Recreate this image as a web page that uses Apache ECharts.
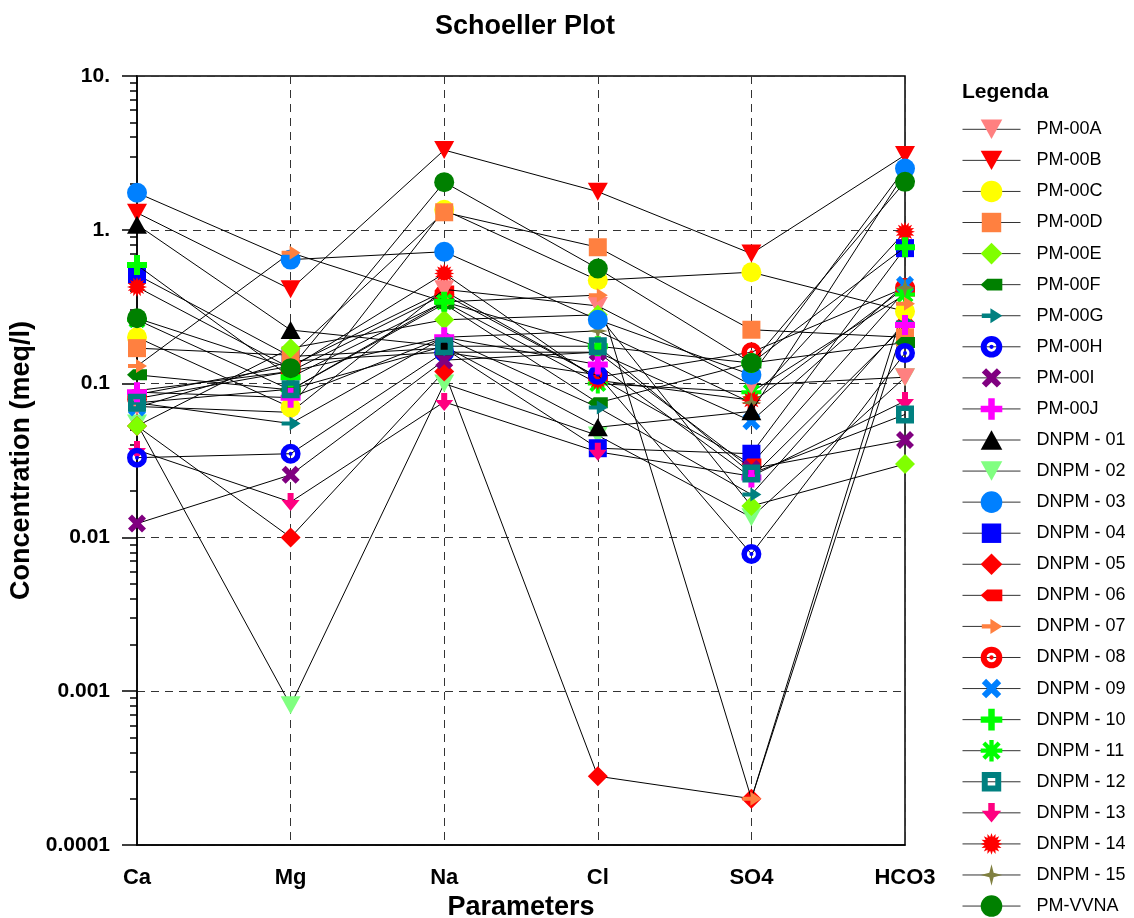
<!DOCTYPE html>
<html>
<head>
<meta charset="utf-8">
<title>Schoeller Plot</title>
<script src="https://cdn.jsdelivr.net/npm/echarts@6/dist/echarts.min.js"></script>
<style>
html,body{margin:0;padding:0;background:#fff;}
#main{width:1134px;height:918px;}
</style>
</head>
<body>
<div id="main"></div>
<script>
// categorias e rotulos
const categories=['Ca','Mg','Na','Cl','SO4','HCO3'];
const yTickLabels=['0.0001','0.001','0.01','0.1','1.','10.'];

// concentracoes (meq/l): Ca, Mg, Na, Cl, SO4, HCO3
const pm00A=[0.071,0.065,0.41,0.32,0.098,0.11];
const pm00B=[1.29,0.41,3.3,1.77,0.70,3.06];
const pm00C=[0.2,0.07,1.35,0.47,0.53,0.295];
const pm00D=[0.17,0.153,1.3,0.77,0.224,0.2];
const pm00E=[0.053,0.17,0.26,0.28,0.016,0.03];
const pm00F=[0.114,0.091,0.33,0.075,0.136,0.185];
const pm00G=[0.075,0.055,0.2,0.07,0.019,0.25];
const pm00H=[0.033,0.035,0.16,0.114,0.0078,0.158];
const pm00I=[0.0123,0.0255,0.142,0.16,0.028,0.043];
const pm00J=[0.088,0.081,0.2,0.133,0.0245,0.24];
const dnpm01=[1.08,0.223,0.175,0.052,0.066,2.35];
const dnpm02=[0.055,0.00081,0.1,0.046,0.0135,0.11];
const dnpm03=[1.74,0.64,0.72,0.26,0.114,2.5];
const dnpm04=[0.51,0.15,0.17,0.038,0.035,0.76];
const dnpm05=[0.053,0.01,0.12,0.00028,0.0002,0.25];
const dnpm06=[0.085,0.13,0.4,0.11,0.03,0.4];
const dnpm07=[0.13,0.71,0.34,0.376,0.0002,0.33];
const dnpm08=[0.08,0.12,0.38,0.11,0.16,0.42];
const dnpm09=[0.07,0.14,0.16,0.16,0.057,0.44];
const dnpm10=[0.59,0.11,0.34,0.175,0.136,0.77];
const dnpm11=[0.26,0.091,0.34,0.1,0.088,0.38];
const dnpm12=[0.075,0.092,0.175,0.175,0.026,0.063];
const dnpm13=[0.037,0.017,0.076,0.036,0.025,0.077];
const dnpm14=[0.425,0.126,0.52,0.105,0.078,0.97];
const dnpm15=[0.09,0.12,0.2,0.22,0.075,0.42];
const pmVVNA=[0.266,0.126,2.04,0.56,0.136,2.05];

const names=['PM-00A','PM-00B','PM-00C','PM-00D','PM-00E','PM-00F','PM-00G','PM-00H','PM-00I','PM-00J',
  'DNPM - 01','DNPM - 02','DNPM - 03','DNPM - 04','DNPM - 05','DNPM - 06','DNPM - 07','DNPM - 08',
  'DNPM - 09','DNPM - 10','DNPM - 11','DNPM - 12','DNPM - 13','DNPM - 14','DNPM - 15','PM-VVNA'];
const values=[pm00A,pm00B,pm00C,pm00D,pm00E,pm00F,pm00G,pm00H,pm00I,pm00J,
  dnpm01,dnpm02,dnpm03,dnpm04,dnpm05,dnpm06,dnpm07,dnpm08,dnpm09,dnpm10,dnpm11,dnpm12,dnpm13,dnpm14,dnpm15,pmVVNA];

// simbolos (caixa 0..20)
const box='path://M0,0 M20,20 ';
function starPath(n,ro,ri){
  var s='';
  for(var k=0;k<2*n;k++){
    var r=k%2?ri:ro;
    var a=Math.PI*k/n-Math.PI/2;
    s+=(k?'L':'M')+(10+r*Math.cos(a)).toFixed(2)+','+(10+r*Math.sin(a)).toFixed(2)+' ';
  }
  return box+s+'Z';
}
function asteriskPath(w){
  var s='';
  [0,45,90,135].forEach(function(d){
    var a=d*Math.PI/180, c=Math.cos(a), sn=Math.sin(a);
    var pts=[[-10,-w/2],[10,-w/2],[10,w/2],[-10,w/2]];
    pts.forEach(function(p,k){
      var x=10+p[0]*c-p[1]*sn, y=10+p[0]*sn+p[1]*c;
      s+=(k?'L':'M')+x.toFixed(2)+','+y.toFixed(2)+' ';
    });
    s+='Z ';
  });
  return box+s;
}
const sym={
  triDown:box+'M0,1 L20,1 L10,19 Z',
  triUp:box+'M0,19 L20,19 L10,1 Z',
  circle:'circle',
  square:box+'M1,1 L19,1 L19,19 L1,19 Z',
  diamond:box+'M10,0 L20,10 L10,20 L0,10 Z',
  house:box+'M0,10 L6,4.5 L20,4.5 L20,15.5 L6,15.5 Z',
  arrowR:box+'M1,8 L9,8 L9,3 L20,10 L9,17 L9,12 L1,12 Z',
  ring:'path://M10,0 A10,10 0 1 1 10,20 A10,10 0 1 1 10,0 Z M10,5.5 A4.5,4.5 0 1 0 10,14.5 A4.5,4.5 0 1 0 10,5.5 Z M10,8 A2,2 0 1 1 10,12 A2,2 0 1 1 10,8 Z',
  cross:box+'M1,5 L5,1 L10,6 L15,1 L19,5 L14,10 L19,15 L15,19 L10,14 L5,19 L1,15 L6,10 Z',
  plus:box+'M7,0 L13,0 L13,7 L20,7 L20,13 L13,13 L13,20 L7,20 L7,13 L0,13 L0,7 L7,7 Z',
  asterisk:asteriskPath(4),
  squareRing:box+'M1,1 L19,1 L19,19 L1,19 Z M6.5,6.5 L6.5,13.5 L13.5,13.5 L13.5,6.5 Z',
  arrowD:box+'M7,1 L13,1 L13,8 L19,8 L10,19 L1,8 L7,8 Z',
  burst:starPath(16,10,6.5),
  star4:box+'M10,0 L12,8 L20,10 L12,12 L10,20 L8,12 L0,10 L8,8 Z'
};
const colors=['#FF8080','#FF0000','#FFFF00','#FF8040','#80FF00','#008000','#008080','#0000FF','#800080','#FF00FF',
  '#000000','#80FF80','#0080FF','#0000FF','#FF0000','#FF0000','#FF8040','#FF0000','#0080FF','#00FF00',
  '#00FF00','#008080','#FF0080','#FF0000','#808040','#008000'];
const symbols=[sym.triDown,sym.triDown,sym.circle,sym.square,sym.diamond,sym.house,sym.arrowR,sym.ring,sym.cross,sym.plus,
  sym.triUp,sym.triDown,sym.circle,sym.square,sym.diamond,sym.house,sym.arrowR,sym.ring,sym.cross,sym.plus,
  sym.asterisk,sym.squareRing,sym.arrowD,sym.burst,sym.star4,sym.circle];
// series desenhadas por baixo (como no original)
const behind=['DNPM - 02','DNPM - 04','DNPM - 05','DNPM - 06','DNPM - 08','DNPM - 09','DNPM - 11','DNPM - 13','DNPM - 14','DNPM - 15'];

// marcas menores do eixo log (2..9 em cada decada)
var minorTicks=[];
for(var d=-4;d<1;d++){
  for(var m=2;m<10;m++){ minorTicks.push(d+Math.log10(m)); }
}

const font='Liberation Sans, Arial, sans-serif';
var series=[];
for(var i=0;i<names.length;i++){
  series.push({
    name:names[i],
    type:'line',
    data:values[i],
    z:behind.indexOf(names[i])>=0?1:2,
    symbol:symbols[i],
    symbolSize:20,
    showAllSymbol:true,
    itemStyle:{color:colors[i],borderWidth:0},
    lineStyle:{color:'#000',width:1},
    emphasis:{disabled:true},
    silent:true
  });
}

var myChart=echarts.init(document.getElementById('main'));
var option={
  animation:false,
  backgroundColor:'#fff',
  title:[
    {text:'Schoeller Plot',left:520,top:8,textAlign:'center',
     textStyle:{fontFamily:font,fontSize:27,fontWeight:'bold',color:'#000'}},
    {text:'Legenda',left:957,top:77,
     textStyle:{fontFamily:font,fontSize:21,fontWeight:'bold',color:'#000'}}
  ],
  legend:{
    orient:'vertical',left:962,top:118.5,padding:0,
    itemWidth:58,itemHeight:27,itemGap:9.47,
    selectedMode:false,
    data:names,
    lineStyle:{width:1,color:'#333'},
    textStyle:{fontFamily:font,fontSize:18,color:'#000',padding:[0,0,0,11]}
  },
  grid:{left:137,right:229,top:76,bottom:73,outerBoundsMode:'none',containLabel:false,
    show:true,borderColor:'#000',borderWidth:1.5,backgroundColor:'transparent'},
  xAxis:{
    type:'category',data:categories,boundaryGap:false,
    axisLine:{onZero:false,lineStyle:{color:'#000',width:1.5}},
    axisTick:{show:false},
    axisLabel:{margin:22,fontFamily:font,fontSize:22,fontWeight:'bold',color:'#000'},
    splitLine:{show:true,lineStyle:{color:'#333',type:[8,6],width:1}},
    name:'Parameters',nameLocation:'middle',nameGap:43,
    nameTextStyle:{fontFamily:font,fontSize:27,fontWeight:'bold',color:'#000'}
  },
  yAxis:[
    {
      type:'log',logBase:10,min:0.0001,max:10,
      axisLine:{show:true,lineStyle:{color:'#000',width:1.5}},
      axisTick:{show:true,length:15,lineStyle:{color:'#000',width:1.5}},
      axisLabel:{margin:27,fontFamily:font,fontSize:21,fontWeight:'bold',color:'#000',
        formatter:function(v){return yTickLabels[Math.round(Math.log10(v))+4];}},
      splitLine:{show:true,lineStyle:{color:'#333',type:[8,6],width:1}},
      name:'Concentration (meq/l)',nameLocation:'middle',nameGap:98,
      nameTextStyle:{fontFamily:font,fontSize:27,fontWeight:'bold',color:'#000'}
    },
    {
      type:'value',min:-4,max:1,position:'left',
      axisLine:{show:false},
      axisLabel:{show:false},
      splitLine:{show:false},
      axisTick:{show:true,length:7,customValues:minorTicks,lineStyle:{color:'#000',width:1.5}}
    }
  ],
  series:series
};
myChart.setOption(option);
</script>
</body>
</html>
